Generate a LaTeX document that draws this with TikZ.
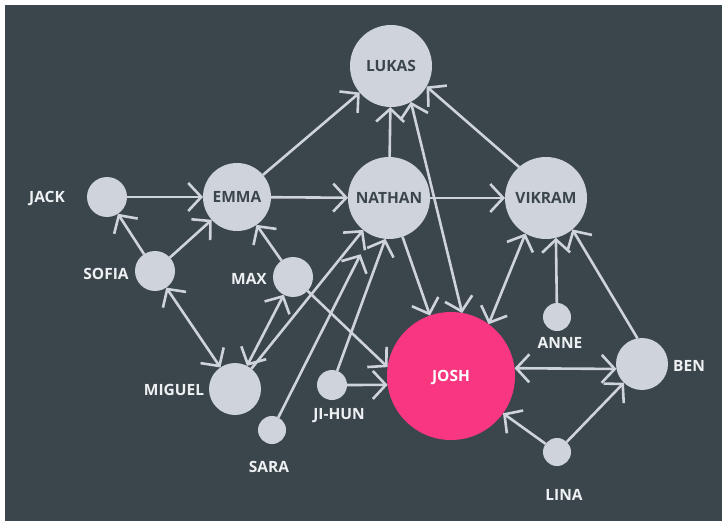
\documentclass[tikz,border=0pt]{standalone}
\usepackage{fontspec}
\setmainfont{Open Sans}
\usetikzlibrary{arrows.meta}

\definecolor{slate}{HTML}{3B454C}
\definecolor{bubble}{HTML}{CED4DA}
\definecolor{hot}{HTML}{F93680}
\definecolor{namecol}{HTML}{EEF1F3}

\begin{document}
\begin{tikzpicture}[x=1pt,y=-1pt,
    person/.style={circle,fill=bubble,inner sep=0pt,outer sep=0pt,text=slate,text height=11pt,text depth=0pt,font=\bfseries\fontsize{15.5}{15.5}\selectfont},
    who/.style={text=namecol,inner sep=0pt,text height=11pt,text depth=0pt,font=\bfseries\fontsize{15.5}{15.5}\selectfont},
    link/.style={draw=bubble,line width=2.6pt,->},
    >={Straight Barb[length=13pt,width=28pt]}]
    \fill[white] (0,0) rectangle (722,521);
    \fill[slate] (5,5) rectangle (722,521);
    \useasboundingbox (0,0) rectangle (722,521);

    % people
    \node[person,minimum size=82pt] (lukas) at (391,66) {LUKAS};
    \node[person,minimum size=68pt] (emma) at (237,197) {EMMA};
    \node[person,minimum size=82pt] (nathan) at (389,198) {NATHAN};
    \node[person,minimum size=82pt] (vikram) at (546,198) {VIKRAM};
    \node[person,minimum size=40pt] (jack) at (107,197) {};
    \node[person,minimum size=40pt] (sofia) at (155,271) {};
    \node[person,minimum size=40pt] (max) at (293,277) {};
    \node[person,minimum size=52pt] (miguel) at (235,389) {};
    \node[person,minimum size=28pt] (sara) at (272,430) {};
    \node[person,minimum size=30pt] (jihun) at (332,385) {};
    \node[person,minimum size=128pt,fill=hot,text=white] (josh) at (451,376) {JOSH};
    \node[person,minimum size=28pt] (anne) at (557,317) {};
    \node[person,minimum size=52pt] (ben) at (642,364) {};
    \node[person,minimum size=28pt] (lina) at (557,452) {};

    % names next to the small circles
    \node[who] (jack-name) at (47,197) {JACK};
    \node[who] (sofia-name) at (106,274) {SOFIA};
    \node[who] (max-name) at (249,279) {MAX};
    \node[who] (miguel-name) at (174,390) {MIGUEL};
    \node[who] (sara-name) at (269,467) {SARA};
    \node[who] (jihun-name) at (339,414) {JI-HUN};
    \node[who] (anne-name) at (560,343) {ANNE};
    \node[who] (ben-name) at (689,366) {BEN};
    \node[who] (lina-name) at (564,495) {LINA};

    % top part
    \draw[link] (jack) -- (emma);
    \draw[link] (emma) -- (nathan);
    \draw[link] (nathan) -- (vikram);
    \draw[link] (emma) -- (lukas);
    \draw[link] (nathan) -- (lukas);
    \draw[link] (vikram.131) -- (lukas.-30);
    \draw[link,<->] (josh.80) -- (lukas.-61);
    \draw[link] (nathan) -- (josh);

    % right part
    \draw[link,<->] (vikram.-120) -- (josh.54);
    \draw[link] (anne) -- (vikram.-76);
    \draw[link] (ben.100) -- (vikram.-50);
    \draw[link,<->] (josh.7) -- (ben.191);
    \draw[link] (lina) -- (josh);
    \draw[link] (lina) -- (ben);

    % left part
    \draw[link] (sofia) -- (jack);
    \draw[link] (sofia) -- (emma);
    \draw[link,<->] (sofia) -- (miguel);
    \draw[link] (max) -- (emma);
    \draw[link,<->] (max) -- (miguel);
    \draw[link] (max) -- (josh.172);
    \draw[link] (miguel) -- (nathan);
    \draw[link,shorten >=22pt] (sara) -- (nathan);
    \draw[link] (jihun) -- (nathan.-95);
    \draw[link] (jihun) -- (josh.188);
\end{tikzpicture}
\end{document}
